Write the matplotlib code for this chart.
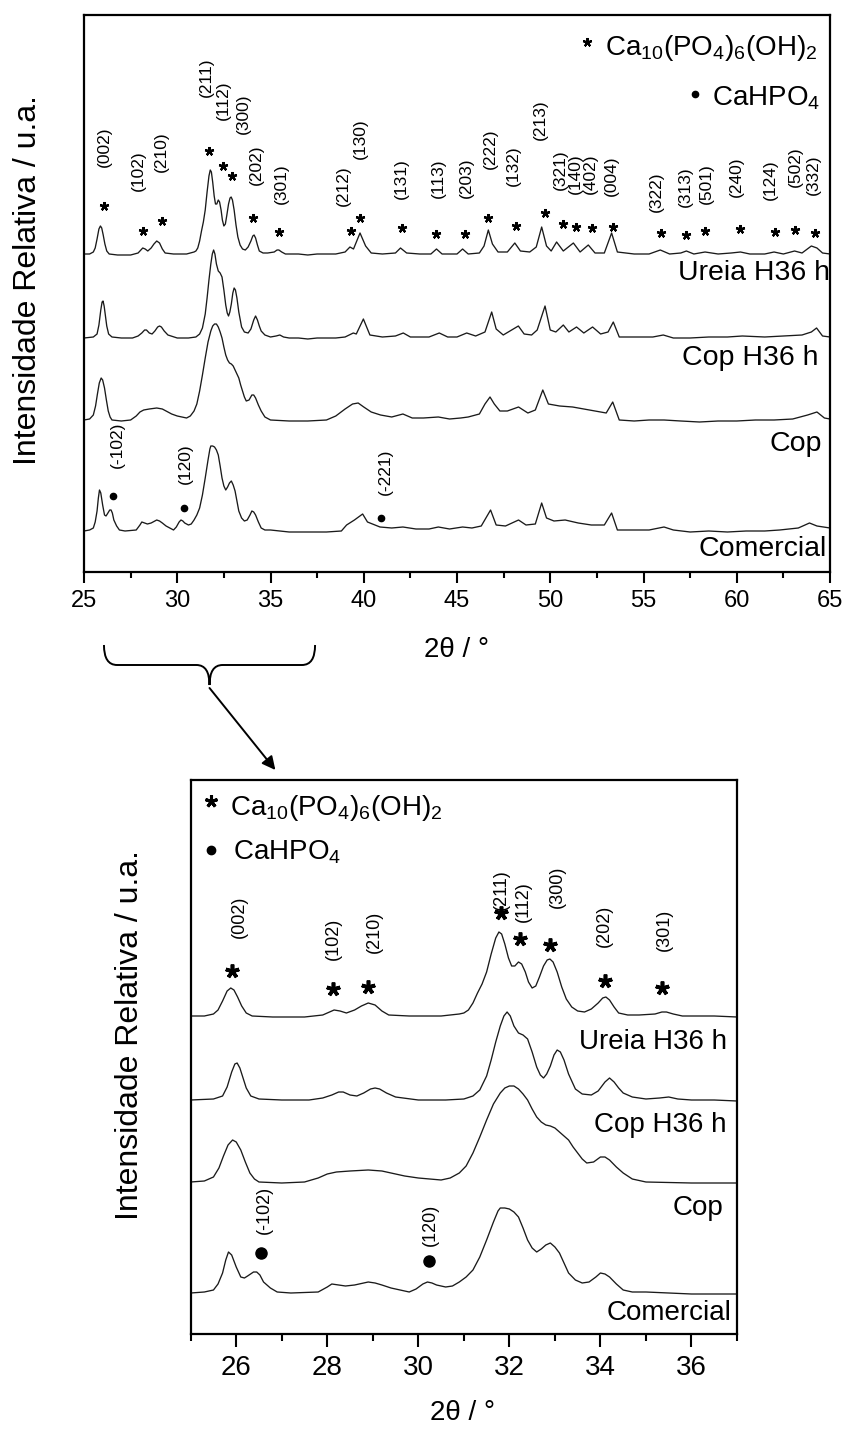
import numpy as np
import matplotlib
matplotlib.use("Agg")
import matplotlib.pyplot as plt
from matplotlib.path import Path
from matplotlib.patches import PathPatch, ConnectionPatch

plt.rcParams['font.family'] = ['Liberation Sans', 'DejaVu Sans']
plt.rcParams['mathtext.fontset'] = 'custom'
plt.rcParams['mathtext.rm'] = 'Liberation Sans'
plt.rcParams['mathtext.it'] = 'Liberation Sans'
plt.rcParams['mathtext.default'] = 'regular'

# ---------------- data (2theta, offset intensity) ----------------
ureia_x = [25.0, 25.3, 25.5, 25.6, 25.7, 25.8, 25.88, 25.95, 26.03, 26.12, 26.22, 26.35, 26.8, 27.5, 27.9,
           28.05, 28.15, 28.28, 28.42, 28.6, 28.75, 28.9, 29.05, 29.2, 29.35, 29.8, 30.5, 30.9, 31.0,
           31.1, 31.2, 31.3, 31.4, 31.5, 31.6, 31.7, 31.77, 31.83, 31.9, 31.98, 32.05, 32.12, 32.2,
           32.27, 32.35, 32.42, 32.5, 32.58, 32.66, 32.75, 32.83, 32.89, 32.96, 33.05, 33.15, 33.25,
           33.37, 33.5, 33.65, 33.8, 33.95, 34.05, 34.12, 34.2, 34.3, 34.4, 34.6, 34.85, 35.2, 35.35,
           35.45, 35.6, 35.8, 36.5, 37.0,
           37.5, 38.5, 39.0, 39.26, 39.45, 39.8, 40.1, 40.4, 41.0, 41.7, 41.97, 42.3, 43.0, 43.6, 43.9,
           44.2, 45.0, 45.3, 45.6, 46.2, 46.45, 46.68, 46.9, 47.2, 47.7, 48.1, 48.4, 48.9, 49.25, 49.54,
           49.8, 50.05, 50.34, 50.7, 51.24, 51.6, 52.04, 52.4, 52.9, 53.29, 53.6, 54.5, 55.3, 55.9, 56.4,
           57.0, 57.3, 57.7, 58.3, 59.0, 59.7, 60.2, 60.7, 61.5, 62.0, 62.5, 63.1, 63.5, 64.0, 64.3,
           64.6, 65.0]
ureia_y = [318, 318, 320, 324, 333, 343, 346, 344, 337, 328, 321, 318, 317, 317, 319,
           322, 324, 323, 321, 324, 328, 331, 329, 323, 319, 318, 318, 320, 321,
           324, 331, 341, 350, 362, 380, 396, 402, 400, 390, 376, 368, 368, 372,
           370, 362, 352, 346, 348, 357, 368, 374, 375, 372, 362, 347, 335,
           327, 323, 322, 325, 331, 336, 337, 334, 327, 321, 319, 319, 320, 322,
           322, 320, 318, 318, 317,
           318, 318, 320, 325, 323, 339, 326, 319, 318, 319, 324, 319, 318, 318, 323,
           318, 318, 323, 318, 319, 326, 342, 328, 320, 320, 329, 321, 320, 325, 345,
           326, 321, 330, 321, 329, 320, 327, 319, 319, 339, 320, 318, 318, 322, 318,
           319, 321, 318, 320, 318, 319, 320, 318, 318, 320, 318, 321, 319, 326, 324,
           319, 318]

coph_x = [25.0, 25.5, 25.7, 25.8, 25.9, 25.97, 26.02, 26.08, 26.15, 26.22, 26.32, 26.5, 27.0, 27.6, 27.9,
          28.1, 28.25, 28.35, 28.5, 28.65, 28.8, 28.95, 29.05, 29.15, 29.3, 29.5, 30.0, 30.6, 31.0,
          31.2, 31.35, 31.5, 31.6, 31.7, 31.8, 31.88, 31.95, 32.02, 32.1, 32.2, 32.3, 32.4, 32.5,
          32.6, 32.68, 32.75, 32.82, 32.9, 32.98, 33.05, 33.12, 33.2, 33.3, 33.45, 33.6, 33.8, 33.95,
          34.1, 34.2, 34.3, 34.4, 34.5, 34.7, 35.0, 35.3, 35.5, 35.7, 36.0, 36.5, 37.0,
          37.5, 38.5, 39.0, 39.44, 39.6, 39.98, 40.33, 41.0, 41.7, 42.12, 42.5, 43.5, 44.05, 44.5, 45.0,
          45.52, 46.0, 46.5, 46.86, 47.1, 47.48, 48.29, 48.6, 49.0, 49.3, 49.72, 50.0, 50.3, 50.7, 51.0,
          51.41, 51.8, 52.27, 52.7, 53.1, 53.38, 53.7, 54.5, 55.5, 56.06, 56.6, 57.5, 58.5, 59.5, 60.3,
          61.5, 62.5, 63.5, 64.0, 64.28, 64.6, 65.0]
coph_y = [234, 235, 238, 247, 262, 270, 271, 266, 256, 246, 238, 235, 234, 234, 236,
          239, 242, 242, 239, 238, 241, 245, 246, 245, 241, 237, 234, 234, 235,
          238, 244, 258, 274, 292, 308, 318, 322, 318, 308, 301, 299, 295, 282,
          267, 259, 256, 260, 268, 279, 284, 282, 274, 260, 245, 240, 239, 243,
          252, 256, 252, 246, 241, 237, 235, 236, 237, 235, 234, 234, 233,
          234, 234, 235, 239, 238, 253, 237, 235, 236, 239, 235, 235, 239, 235, 235,
          239, 236, 240, 260, 243, 237, 246, 238, 237, 242, 266, 242, 240, 247, 240,
          245, 239, 245, 238, 240, 250, 235, 235, 235, 237, 234, 234, 235, 235, 236,
          235, 236, 237, 240, 244, 236, 235]

cop_x = [25.0, 25.3, 25.5, 25.62, 25.72, 25.82, 25.92, 26.0, 26.1, 26.2, 26.3, 26.4, 26.5, 27.0, 27.5,
         27.8, 28.0, 28.2, 28.5, 28.9, 29.2, 29.4, 29.7, 30.0, 30.5, 30.7, 30.9, 31.05, 31.2, 31.35,
         31.5, 31.65, 31.8, 31.9, 32.0, 32.1, 32.2, 32.3, 32.4, 32.5, 32.6, 32.7, 32.8, 32.9, 33.0,
         33.15, 33.3, 33.4, 33.5, 33.6, 33.7, 33.85, 34.0, 34.1, 34.2, 34.35, 34.5, 34.7, 35.0, 36.0,
         37.0,
         38.0, 38.5, 39.0, 39.4, 39.7, 40.0, 40.4, 40.9, 41.5, 42.1, 42.6, 43.2, 44.0, 44.6, 45.2,
         45.6, 46.2, 46.5, 46.77, 47.0, 47.3, 47.7, 48.3, 48.8, 49.2, 49.6, 49.9, 50.5, 51.2, 51.8,
         52.4, 53.0, 53.35, 53.7, 54.5, 55.3, 56.1, 57.0, 58.0, 59.0, 60.0, 61.0, 62.0, 63.0, 63.8,
         64.3, 64.7, 65.0]
cop_y = [152, 153, 157, 166, 178, 189, 194, 192, 184, 172, 161, 155, 152, 151, 152,
         156, 160, 162, 163, 164, 163, 161, 158, 156, 154, 156, 161, 168, 181, 197,
         214, 230, 241, 246, 248, 248, 245, 240, 234, 225, 217, 212, 209, 208, 206,
         200, 194, 187, 181, 175, 171, 172, 177, 177, 174, 167, 161, 155, 152, 151,
         151,
         152, 156, 163, 168, 169, 165, 160, 157, 155, 158, 154, 154, 155, 153, 154,
         155, 158, 168, 175, 168, 161, 161, 165, 159, 162, 182, 168, 166, 165, 163,
         161, 159, 170, 152, 151, 152, 152, 151, 150, 151, 151, 152, 152, 153, 157,
         160, 154, 153]

com_x = [25.0, 25.3, 25.5, 25.6, 25.7, 25.77, 25.83, 25.9, 26.0, 26.1, 26.18, 26.25, 26.38, 26.45, 26.52,
         26.6, 26.75, 26.9, 27.2, 27.8, 28.0, 28.1, 28.25, 28.4, 28.6, 28.9, 29.05, 29.2, 29.4, 29.6,
         29.8, 29.95, 30.1, 30.2, 30.3, 30.4, 30.6, 30.75, 30.9, 31.05, 31.2, 31.35, 31.5, 31.65, 31.75,
         31.8, 31.9, 32.0, 32.1, 32.2, 32.3, 32.4, 32.5, 32.6, 32.7, 32.8, 32.9, 33.0, 33.1, 33.2,
         33.3, 33.45, 33.6, 33.75, 33.9, 34.0, 34.1, 34.2, 34.35, 34.5, 34.7, 35.0, 35.5, 36.0, 37.0,
         38.0, 38.8, 39.08, 39.5, 39.94, 40.2, 40.87, 41.5, 42.1, 42.8, 43.5, 44.0, 44.6, 45.3, 45.8,
         46.3, 46.8, 47.1, 47.6, 48.3, 48.7, 49.2, 49.54, 49.8, 50.2, 50.8, 51.5, 52.2, 52.9, 53.29,
         53.6, 54.5, 55.3, 56.1, 56.6, 57.5, 58.5, 59.5, 60.5, 61.5, 62.3, 63.3, 63.9, 64.3, 65.0]
com_y = [41, 42, 44, 50, 61, 74, 82, 79, 67, 57, 56, 58, 62, 62, 59,
         52, 46, 42, 41, 42, 47, 50, 49, 48, 49, 52, 51, 49, 46, 44,
         42, 45, 50, 52, 51, 49, 47, 48, 52, 57, 64, 77, 94, 112, 123,
         126, 126, 125, 122, 117, 106, 94, 86, 82, 85, 89, 91, 87, 81, 71,
         61, 54, 51, 52, 57, 61, 60, 57, 50, 44, 42, 42, 41, 40, 40,
         40, 41, 47, 52, 58, 50, 45, 44, 45, 43, 43, 45, 43, 45, 44,
         46, 62, 47, 46, 52, 47, 48, 69, 54, 51, 52, 49, 47, 47, 59,
         42, 42, 42, 45, 42, 40, 41, 40, 41, 41, 42, 44, 49, 46, 44]

sample_names = ["Ureia H36 h", "Cop H36 h", "Cop", "Comercial"]

# HAp reflections (top panel): star positions and label positions
hap_top_star_x = [26.07, 28.15, 29.17, 31.72, 32.47, 32.95, 34.08, 35.47, 39.3, 39.8, 42.03, 43.9, 45.43,
                  46.68, 48.16, 49.72, 50.7, 51.38, 52.22, 53.36, 55.92, 57.28, 58.3, 60.2, 62.05, 63.12, 64.2]
hap_top_star_y = [366, 341, 351, 421, 406, 396, 354, 340, 341, 354, 344, 338, 338,
                  354, 346, 359, 348, 345, 344, 345, 339, 337, 341, 343, 340, 342, 339]
hap_top_lab = ["(002)", "(102)", "(210)", "(211)", "(112)", "(300)", "(202)", "(301)", "(212)", "(130)",
               "(131)", "(113)", "(203)", "(222)", "(132)", "(213)", "(321)", "(140)", "(402)", "(004)",
               "(322)", "(313)", "(501)", "(240)", "(124)", "(502)", "(332)"]
hap_top_lab_x = [26.07, 27.91, 29.17, 31.54, 32.47, 33.54, 34.26, 35.56, 38.9, 39.83, 42.03, 44.0, 45.52,
                 46.77, 48.02, 49.45, 50.52, 51.33, 52.13, 53.29, 55.7, 57.22, 58.39, 59.96, 61.78, 63.12, 64.1]
hap_top_lab_y = [425, 401, 420, 495, 472, 458, 407, 388, 386, 433, 393, 394, 394,
                 423, 406, 452, 402, 398, 398, 396, 380, 385, 388, 395, 392, 405, 397]

# CaHPO4 reflections (top panel)
dcpa_top_lab = ["(-102)", "(120)", "(-221)"]
dcpa_top_dot_x = [26.57, 30.36, 40.92]
dcpa_top_dot_y = [76, 64, 54]
dcpa_top_lab_x = [26.79, 30.42, 41.14]
dcpa_top_lab_y = [127, 108, 100]

# bottom (zoom) panel annotations
hap_bot_lab = ["(002)", "(102)", "(210)", "(211)", "(112)", "(300)", "(202)", "(301)"]
hap_bot_star_x = [25.9, 28.13, 28.9, 31.81, 32.23, 32.9, 34.09, 35.36]
hap_bot_star_y = [363, 345, 347, 421, 395, 389, 353, 346]
hap_bot_lab_x = [26.07, 28.14, 29.03, 31.83, 32.31, 33.06, 34.09, 35.4]
hap_bot_lab_y = [417, 395, 402, 444, 432, 447, 408, 404]

dcpa_bot_lab = ["(-102)", "(120)"]
dcpa_bot_dot_x = [26.54, 30.24]
dcpa_bot_dot_y = [81, 73]
dcpa_bot_lab_x = [26.62, 30.26]
dcpa_bot_lab_y = [124, 109]

# sample label anchors (right edge x, center y)
top_name_x = [65.0, 64.36, 64.57, 64.84]
top_name_y = [299, 214, 128, 23]
bot_name_x = [36.78, 36.78, 36.7, 36.87]
bot_name_y = [292, 209, 126, 21]

curves = [(ureia_x, ureia_y), (coph_x, coph_y), (cop_x, cop_y), (com_x, com_y)]

# ---------------- figure ----------------
W, H = 848, 1430
fig = plt.figure(figsize=(W / 100, H / 100), dpi=100)
ax1 = fig.add_axes([84 / W, (H - 572) / H, (830 - 84) / W, 557 / H])
ax2 = fig.add_axes([190.7 / W, (H - 1334) / H, (737 - 190.7) / W, 554 / H])

LC = '#1a1a1a'
for ax, xl in ((ax1, (25, 65)), (ax2, (25, 37))):
    for cx, cy in curves:
        ax.plot(cx, cy, color=LC, lw=0.95)
    ax.set_xlim(*xl)
    ax.set_ylim(0, 557 if ax is ax1 else 554)
    ax.set_yticks([])
    for s in ax.spines.values():
        s.set_linewidth(1.6)
        s.set_color('black')

ax1.set_xticks(np.arange(25, 66, 5))
ax1.set_xticks(np.arange(27.5, 65, 5), minor=True)
ax1.tick_params(axis='x', which='major', direction='out', length=8, width=1.5, labelsize=17, pad=5)
ax1.tick_params(axis='x', which='minor', direction='out', length=4, width=1.5)
ax2.set_xticks(np.arange(26, 37, 2))
ax2.set_xticks(np.arange(25, 38, 2), minor=True)
ax2.tick_params(axis='x', which='major', direction='out', length=9, width=1.5, labelsize=20, pad=6)
ax2.tick_params(axis='x', which='minor', direction='out', length=5, width=1.5)

# axis titles
ax1.text(0.4987, -0.14, "2θ / °", transform=ax1.transAxes, ha='center', va='center', fontsize=20)
ax2.text(0.497, -0.1426, "2θ / °", transform=ax2.transAxes, ha='center', va='center', fontsize=20)
ax1.text(-0.075, 0.524, "Intensidade Relativa / u.a.", transform=ax1.transAxes, rotation=90,
         ha='center', va='center', fontsize=23)
ax2.text(-0.111, 0.54, "Intensidade Relativa / u.a.", transform=ax2.transAxes, rotation=90,
         ha='center', va='center', fontsize=23)

# sample names
for name, x, y in zip(sample_names, top_name_x, top_name_y):
    ax1.text(x, y, name, ha='right', va='center', fontsize=20.5)
for name, x, y in zip(sample_names, bot_name_x, bot_name_y):
    ax2.text(x, y, name, ha='right', va='center', fontsize=20)

# reflection markers + labels, top
ax1.plot(hap_top_star_x, hap_top_star_y, ls='none', marker=(5, 2, 0), ms=6.5, mew=1.6, color='black')
for t, x, y in zip(hap_top_lab, hap_top_lab_x, hap_top_lab_y):
    ax1.text(x, y, t, rotation=90, ha='center', va='center', fontsize=12.5)
ax1.plot(dcpa_top_dot_x, dcpa_top_dot_y, ls='none', marker='o', ms=4.5, color='black')
for t, x, y in zip(dcpa_top_lab, dcpa_top_lab_x, dcpa_top_lab_y):
    ax1.text(x, y, t, rotation=90, ha='center', va='center', fontsize=12.5)

# reflection markers + labels, bottom
ax2.plot(hap_bot_star_x, hap_bot_star_y, ls='none', marker=(5, 2, 0), ms=10, mew=2.6, color='black')
for t, x, y in zip(hap_bot_lab, hap_bot_lab_x, hap_bot_lab_y):
    ax2.text(x, y, t, rotation=90, ha='center', va='center', fontsize=13)
ax2.plot(dcpa_bot_dot_x, dcpa_bot_dot_y, ls='none', marker='o', ms=8, color='black')
for t, x, y in zip(dcpa_bot_lab, dcpa_bot_lab_x, dcpa_bot_lab_y):
    ax2.text(x, y, t, rotation=90, ha='center', va='center', fontsize=13)

# legends (as in the original: typed symbols)
hap_formula = r"Ca$_{10}$(PO$_4$)$_6$(OH)$_2$"
dcpa_formula = r"CaHPO$_4$"
ax1.plot([0.674], [0.9515], transform=ax1.transAxes, marker=(5, 2, 0), ms=6.5, mew=1.5, color='black')
ax1.text(0.698, 0.928, hap_formula, transform=ax1.transAxes, ha='left', va='baseline', fontsize=20)
ax1.plot([0.819], [0.858], transform=ax1.transAxes, marker='o', ms=4.5, color='black')
ax1.text(0.842, 0.838, dcpa_formula, transform=ax1.transAxes, ha='left', va='baseline', fontsize=20)

ax2.plot([0.038], [0.962], transform=ax2.transAxes, marker=(5, 2, 0), ms=9, mew=2.2, color='black')
ax2.text(0.072, 0.937, hap_formula, transform=ax2.transAxes, ha='left', va='baseline', fontsize=20)
ax2.plot([0.037], [0.874], transform=ax2.transAxes, marker='o', ms=6, color='black')
ax2.text(0.077, 0.856, dcpa_formula, transform=ax2.transAxes, ha='left', va='baseline', fontsize=20)

# brace under top axis marking the zoomed range
bx0, bx1 = 26.07, 37.39
bc = 0.5 * (bx0 + bx1)
d = 0.7
verts = [(bx0, -73), (bx0, -93), (bx0 + d, -93),
         (bc - d, -93),
         (bc, -93), (bc, -113),
         (bc, -93), (bc + d, -93),
         (bx1 - d, -93),
         (bx1, -93), (bx1, -73)]
codes = [Path.MOVETO, Path.CURVE3, Path.CURVE3,
         Path.LINETO,
         Path.CURVE3, Path.CURVE3,
         Path.CURVE3, Path.CURVE3,
         Path.LINETO,
         Path.CURVE3, Path.CURVE3]
brace = PathPatch(Path(verts, codes), fill=False, lw=1.4, color='black', clip_on=False,
                  transform=ax1.transData)
ax1.add_patch(brace)

arrow = ConnectionPatch(xyA=(bc, -116), coordsA=ax1.transData,
                        xyB=(26.86, 564), coordsB=ax2.transData,
                        arrowstyle='-|>', mutation_scale=20, lw=1.4, color='black')
fig.add_artist(arrow)

fig.savefig("out.png", dpi=100)
